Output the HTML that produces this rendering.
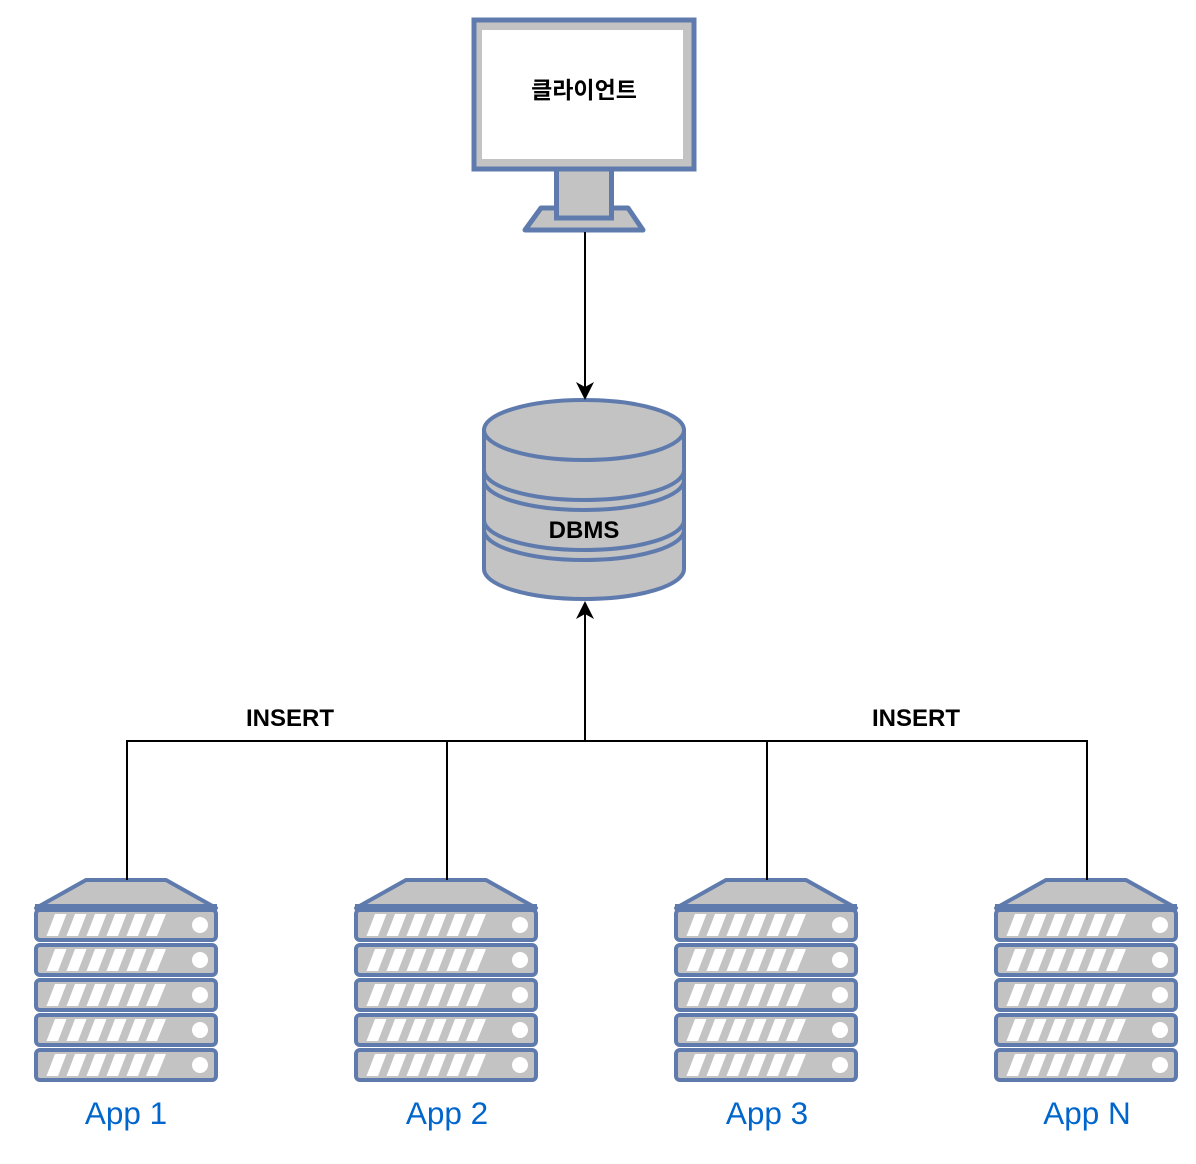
<!DOCTYPE html>
<html><head><meta charset="utf-8"><style>html,body{margin:0;padding:0;background:#fff}svg{display:block}</style></head>
<body>
<svg xmlns="http://www.w3.org/2000/svg" width="1196" height="1164" viewBox="0 0 1196 1164">
<defs>
<g id="rack">
<rect x="36" y="0" width="180" height="30" rx="4" fill="#c3c3c3" stroke="#5f7bae" stroke-width="4"/>
<g fill="#fff">
<path d="M46.500 26L55 4H66.500L58 26Z"/><path d="M66.500 26L75 4H86.500L78 26Z"/><path d="M86.500 26L95 4H106.500L98 26Z"/><path d="M106.500 26L115 4H126.500L118 26Z"/><path d="M126.500 26L135 4H146.500L138 26Z"/><path d="M146 26L155 4H166L157 26Z"/>
<circle cx="200" cy="15" r="8"/>
</g>
</g>
<g id="server">
<path d="M36 908L86 880H166L216 908Z" fill="#c3c3c3" stroke="#5f7bae" stroke-width="4" stroke-linejoin="round"/>
<use href="#rack" y="910"/>
<rect x="35" y="904" width="182" height="8" fill="#5f7bae"/>
<use href="#rack" y="945"/><use href="#rack" y="980"/><use href="#rack" y="1015"/><use href="#rack" y="1050"/>
</g>
</defs>

<!-- monitor -->
<path d="M525 230L541 208H628L643 230Z" fill="#c3c3c3" stroke="#5f7bae" stroke-width="5" stroke-linejoin="round"/>
<rect x="556.500" y="169" width="55" height="49" fill="#c3c3c3" stroke="#5f7bae" stroke-width="5"/>
<rect x="474" y="20" width="220" height="149" fill="#c3c3c3" stroke="#5f7bae" stroke-width="5"/>
<rect x="482" y="30" width="201" height="129" fill="#fff"/>
<text x="584" y="98" text-anchor="middle" font-family="'Liberation Sans','Noto Sans CJK KR',sans-serif" font-weight="700" font-size="23">클라이언트</text>

<!-- database -->
<g stroke="#5f7bae" stroke-width="4" fill="#c3c3c3">
<path d="M484 430A100 30 0 0 1 684 430V569A100 30 0 0 1 484 569Z"/>
<g fill="none">
<path d="M484 430A100 30 0 0 0 684 430"/>
<path d="M484 470A100 30 0 0 0 684 470"/>
<path d="M484 480A100 30 0 0 0 684 480"/>
<path d="M484 520A100 30 0 0 0 684 520"/>
<path d="M484 530A100 30 0 0 0 684 530"/>
</g>
</g>
<text x="584" y="538" text-anchor="middle" font-family="'Liberation Sans',sans-serif" font-weight="700" font-size="24">DBMS</text>

<!-- servers -->
<use href="#server"/>
<use href="#server" x="320"/>
<use href="#server" x="640"/>
<use href="#server" x="960"/>

<!-- connectors -->
<g fill="none" stroke="#000" stroke-width="2">
<path d="M585 232V390"/>
<path d="M585 741V610"/>
<path d="M127 880V741H1087V880"/>
<path d="M447 741V880"/>
<path d="M767 741V880"/>
</g>
<path d="M585 400L576 382L585 387L594 382Z" fill="#000"/>
<path d="M585 601L594 619L585 614L576 619Z" fill="#000"/>

<g font-family="'Liberation Sans',sans-serif" font-weight="700" font-size="24" text-anchor="middle">
<text x="290" y="726">INSERT</text>
<text x="916" y="726">INSERT</text>
</g>
<g font-family="'Liberation Sans',sans-serif" font-size="31.500" fill="#0066cc" text-anchor="middle">
<text x="126" y="1124">App 1</text>
<text x="447" y="1124">App 2</text>
<text x="767" y="1124">App 3</text>
<text x="1087" y="1124">App N</text>
</g>
</svg>
</body></html>
